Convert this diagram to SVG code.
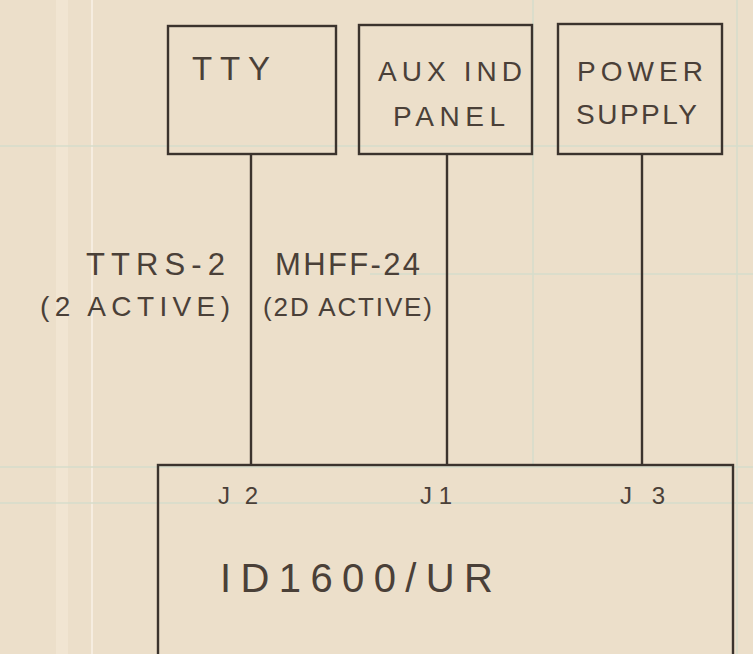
<svg xmlns="http://www.w3.org/2000/svg" width="753" height="654" viewBox="0 0 753 654">
<style>
.box{fill:none;stroke:#3b332d;stroke-width:2.4}
.wire{stroke:#3b332d;stroke-width:2.4;fill:none}
.t{font-family:"Liberation Sans",Arial,sans-serif;fill:#4a4038}
.grid{stroke:#d6dccb;stroke-width:1.5}
</style>
<rect width="753" height="654" fill="#ecdfca"/>
<g id="paper">
<rect x="56" y="0" width="12" height="654" fill="#f1e5d2"/>
<line x1="92" y1="0" x2="92" y2="654" stroke="#f6ede0" stroke-width="2"/>
<line class="grid" x1="0" y1="146" x2="753" y2="146"/>
<line class="grid" x1="0" y1="467" x2="753" y2="467"/>
<line class="grid" x1="0" y1="503" x2="753" y2="503"/>
<line class="grid" x1="370" y1="274" x2="753" y2="274"/>
<line class="grid" x1="533" y1="0" x2="533" y2="465"/>
<line class="grid" x1="737" y1="0" x2="737" y2="654"/>
</g>
<g id="connectors">
<line class="wire" x1="251" y1="154" x2="251" y2="465"/>
<line class="wire" x1="447" y1="154" x2="447" y2="465"/>
<line class="wire" x1="642" y1="154" x2="642" y2="465"/>
</g>
<g id="tty">
<rect class="box" x="168" y="26" width="168" height="128"/>
<text class="t" x="192" y="80" font-size="33" textLength="78" lengthAdjust="spacing">TTY</text>
</g>
<g id="aux">
<rect class="box" x="359" y="25" width="173" height="129"/>
<text class="t" x="378" y="81" font-size="28" textLength="144" lengthAdjust="spacing">AUX IND</text>
<text class="t" x="393" y="126" font-size="28" textLength="112" lengthAdjust="spacing">PANEL</text>
</g>
<g id="power">
<rect class="box" x="558" y="24" width="164" height="130"/>
<text class="t" x="577" y="81" font-size="28" textLength="126" lengthAdjust="spacing">POWER</text>
<text class="t" x="576" y="124" font-size="28" textLength="121" lengthAdjust="spacing">SUPPLY</text>
</g>
<g id="labels">
<text class="t" x="86" y="275" font-size="31" textLength="139" lengthAdjust="spacing">TTRS-2</text>
<text class="t" x="40" y="316" font-size="28" textLength="190" lengthAdjust="spacing">(2 ACTIVE)</text>
<text class="t" x="275" y="275" font-size="31" textLength="145" lengthAdjust="spacing">MHFF-24</text>
<text class="t" x="263" y="316" font-size="26" textLength="169" lengthAdjust="spacing">(2D ACTIVE)</text>
</g>
<g id="id1600">
<rect class="box" x="158" y="465" width="575" height="200"/>
<text class="t" x="218" y="504" font-size="24" textLength="40" lengthAdjust="spacing">J2</text>
<text class="t" x="420" y="504" font-size="24" textLength="32" lengthAdjust="spacing">J1</text>
<text class="t" x="620" y="504" font-size="24" textLength="45" lengthAdjust="spacing">J3</text>
<text class="t" x="220" y="592" font-size="40" textLength="273" lengthAdjust="spacing">ID1600/UR</text>
</g>
</svg>
